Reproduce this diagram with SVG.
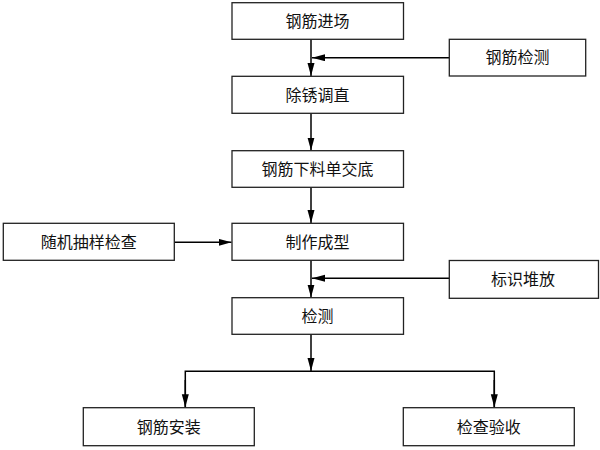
<svg xmlns="http://www.w3.org/2000/svg" width="600" height="450" viewBox="0 0 600 450">
<style>
.box{fill:#fff;stroke:#222;stroke-width:1.3}
.t{font-family:"Noto Sans CJK SC","Liberation Sans",sans-serif;font-size:16px;fill:#111;text-anchor:middle}
.c{fill:none;stroke:#000;stroke-width:1.5}
</style>
<defs>
<marker id="ah" markerUnits="userSpaceOnUse" markerWidth="14" markerHeight="8" refX="13" refY="3.5" orient="auto">
<path d="M0,0 L13,3.5 L0,7 z" fill="#000"/>
</marker>
</defs>
<rect width="600" height="450" fill="#fff"/>
<g id="connectors">
<path class="c" d="M311,39.3 V76" marker-end="url(#ah)"/>
<path class="c" d="M449.3,57.7 H312" marker-end="url(#ah)"/>
<path class="c" d="M311,113.3 V150.5" marker-end="url(#ah)"/>
<path class="c" d="M311,187.3 V223" marker-end="url(#ah)"/>
<path class="c" d="M174.3,242.3 H231.5" marker-end="url(#ah)"/>
<path class="c" d="M311,260.3 V297.5" marker-end="url(#ah)"/>
<path class="c" d="M449.3,278.3 H312" marker-end="url(#ah)"/>
<path class="c" d="M311,334.3 V371" marker-end="url(#ah)"/>
<path class="c" d="M185.3,407.5 V371.3 H494.3 V407.5"/>
<path class="c" d="M185.3,380 V407.3" marker-end="url(#ah)"/>
<path class="c" d="M494.3,380 V407.3" marker-end="url(#ah)"/>
</g>
<g id="n1"><rect class="box" x="232" y="2.7" width="171.5" height="36.6"/><text class="t" x="317.5" y="26.5">钢筋进场</text></g>
<g id="n2"><rect class="box" x="449.3" y="39.3" width="136.4" height="36.7"/><text class="t" x="517.5" y="63">钢筋检测</text></g>
<g id="n3"><rect class="box" x="232" y="76.3" width="171.5" height="37"/><text class="t" x="317.5" y="100.5">除锈调直</text></g>
<g id="n4"><rect class="box" x="232" y="150.7" width="171.5" height="36.6"/><text class="t" x="317.5" y="174.5">钢筋下料单交底</text></g>
<g id="n5"><rect class="box" x="3.3" y="223.3" width="171" height="37"/><text class="t" x="88.8" y="247.5">随机抽样检查</text></g>
<g id="n6"><rect class="box" x="232" y="223.3" width="171.5" height="37"/><text class="t" x="317.5" y="247.5">制作成型</text></g>
<g id="n7"><rect class="box" x="449.3" y="260.5" width="149.2" height="37.8"/><text class="t" x="523" y="284.5">标识堆放</text></g>
<g id="n8"><rect class="box" x="232" y="297.7" width="171.5" height="36.6"/><text class="t" x="317.5" y="321.5">检测</text></g>
<g id="n9"><rect class="box" x="83.3" y="407.7" width="171" height="38"/><text class="t" x="168.8" y="432.5">钢筋安装</text></g>
<g id="n10"><rect class="box" x="403.3" y="407.7" width="171" height="38"/><text class="t" x="488.8" y="432.5">检查验收</text></g>
</svg>
